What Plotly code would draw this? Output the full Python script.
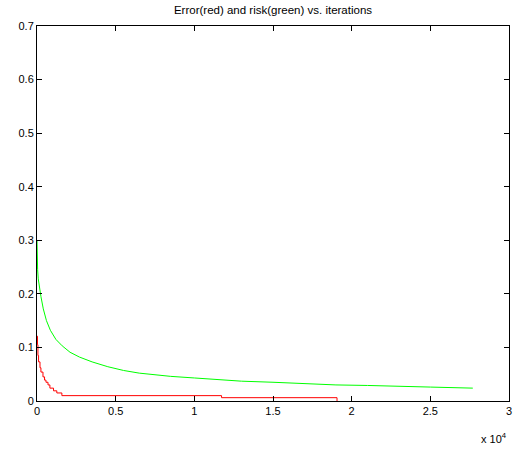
import plotly.graph_objects as go

# Risk (green) sampled along the run
risk_iter = [0, 15, 40, 80, 150, 250, 400, 600, 850, 1200, 1600, 2100, 2700, 3500,
             4500, 5500, 6500, 7500, 8500, 10000, 11500, 13000, 15000, 17000,
             19000, 21000, 23000, 25000, 27700]
risk_val = [0.300, 0.265, 0.245, 0.228, 0.212, 0.195, 0.172, 0.150, 0.132, 0.115,
            0.103, 0.091, 0.082, 0.073, 0.064, 0.057, 0.052, 0.049, 0.046, 0.043,
            0.040, 0.037, 0.035, 0.032, 0.030, 0.029, 0.028, 0.026, 0.024]

# Error (red), piecewise constant between updates
err_iter = [0, 30, 60, 100, 190, 250, 380, 480, 570, 700, 820, 1050, 1260,
            1580, 11730, 19070]
err_val = [0.121, 0.105, 0.085, 0.073, 0.062, 0.054, 0.045, 0.039, 0.035, 0.030,
           0.024, 0.019, 0.015, 0.010, 0.0062, 0.0]

x_ticks = [0, 5000, 10000, 15000, 20000, 25000, 30000]
x_tick_text = ["0", "0.5", "1", "1.5", "2", "2.5", "3"]
y_ticks = [0, 0.1, 0.2, 0.3, 0.4, 0.5, 0.6, 0.7]
y_tick_text = ["0", "0.1", "0.2", "0.3", "0.4", "0.5", "0.6", "0.7"]

font = dict(family="Liberation Sans, Arial, Helvetica, sans-serif", size=11, color="black")
title_font = dict(font, size=11.5)

fig = go.Figure()
fig.add_trace(go.Scatter(x=risk_iter, y=risk_val, mode="lines",
                         line=dict(color="#00ff00", width=1), showlegend=False))
fig.add_trace(go.Scatter(x=err_iter, y=err_val, mode="lines", line_shape="hv",
                         line=dict(color="#ff0000", width=1), showlegend=False))

axis_common = dict(showgrid=False, zeroline=False, showline=True, linecolor="black",
                   linewidth=1, mirror="ticks", ticks="inside", ticklen=5,
                   tickcolor="black", tickwidth=1, tickfont=font)

fig.update_xaxes(range=[0, 30000], tickvals=x_ticks, ticktext=x_tick_text, **axis_common)
fig.update_yaxes(range=[0, 0.7], tickvals=y_ticks, ticktext=y_tick_text, **axis_common)

fig.add_annotation(text="x 10<sup>4</sup>", xref="paper", yref="paper",
                   x=1.0, y=-0.075, xanchor="right", yanchor="top",
                   showarrow=False, font=font)

fig.update_layout(
    width=523, height=455,
    margin=dict(l=37, r=11, t=26, b=54),
    paper_bgcolor="white", plot_bgcolor="white",
    title=dict(text="Error(red) and risk(green) vs. iterations", font=title_font,
               x=0.5, xref="paper", y=1 - 10 / 455, yanchor="middle"),
)

fig.write_html("out.html")
